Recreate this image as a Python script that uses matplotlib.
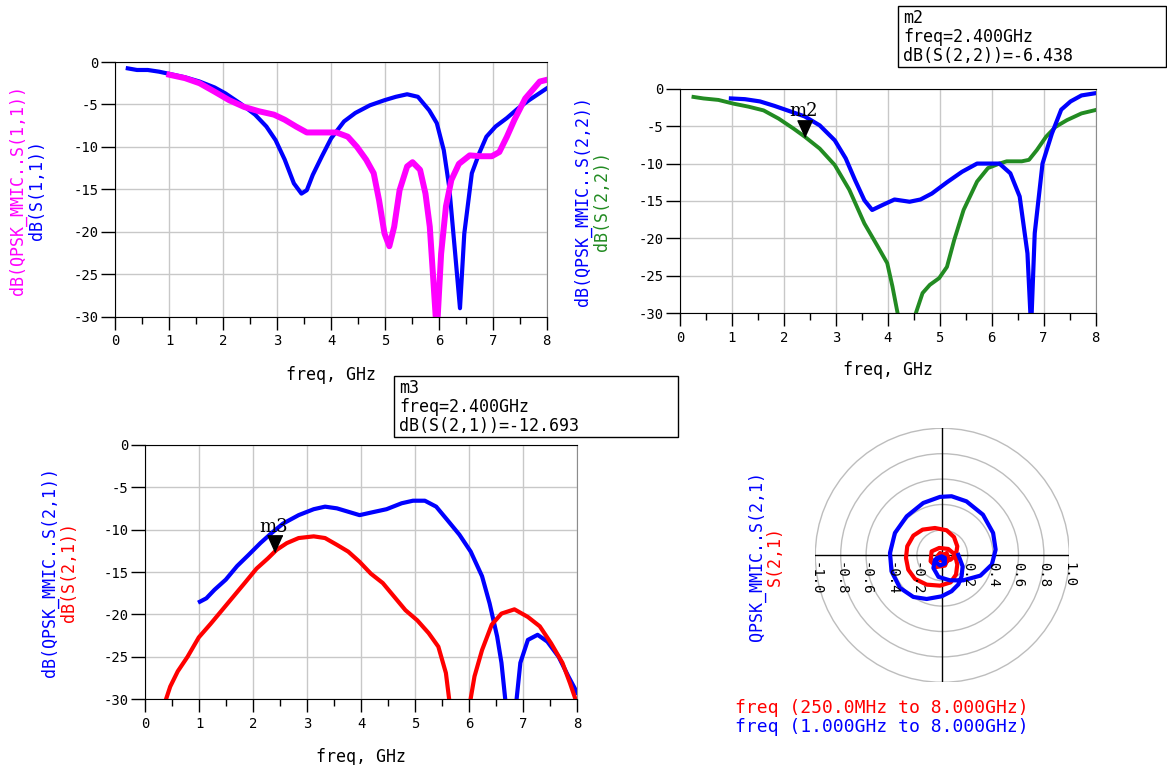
import numpy as np
import matplotlib
matplotlib.use('Agg')
import matplotlib.pyplot as plt
from matplotlib.patches import Circle, Rectangle

plt.rcParams['font.family'] = ['DejaVu Sans Mono']

W, H = 1167, 765

# S(1,1): dB(S(1,1)) blue, dB(QPSK_MMIC..S(1,1)) magenta
s11_f = [0.23, 0.40, 0.60, 0.81, 1.00, 1.29, 1.56, 1.84, 2.04, 2.32, 2.59, 2.80, 2.97, 3.14,
         3.31, 3.45, 3.55, 3.66, 3.83, 4.00, 4.24, 4.45, 4.72, 4.99, 5.20, 5.41, 5.61, 5.82,
         5.96, 6.09, 6.19, 6.30, 6.39, 6.47, 6.61, 6.75, 6.88, 7.05, 7.26, 7.46, 7.67, 8.00]
s11_db = [-0.75, -0.94, -0.94, -1.14, -1.4, -1.8, -2.3, -3.0, -3.7, -4.9, -6.2, -7.6, -9.2, -11.5,
          -14.3, -15.5, -15.1, -13.3, -11.1, -9.0, -7.0, -6.0, -5.1, -4.5, -4.1, -3.8, -4.1, -5.7,
          -7.2, -10.4, -14.7, -22.5, -29.0, -20.2, -13.1, -10.7, -8.8, -7.6, -6.6, -5.5, -4.5, -3.1]
s11_mmic_f = [1.00, 1.29, 1.56, 1.84, 2.11, 2.39, 2.66, 2.94, 3.14, 3.35, 3.55, 3.83, 4.10, 4.31,
              4.48, 4.65, 4.79, 4.89, 4.99, 5.08, 5.17, 5.27, 5.41, 5.51, 5.65, 5.75, 5.83, 5.90,
              5.96, 6.04, 6.13, 6.23, 6.37, 6.57, 6.78, 6.98, 7.12, 7.26, 7.40, 7.60, 7.87, 8.00]
s11_mmic_db = [-1.5, -1.9, -2.5, -3.5, -4.5, -5.3, -5.8, -6.2, -6.8, -7.6, -8.3, -8.3, -8.3, -8.8,
               -10.0, -11.5, -13.1, -16.3, -20.2, -21.7, -19.4, -15.1, -12.3, -11.8, -12.7, -15.5, -19.4, -26.1,
               -32.0, -22.6, -17.0, -13.9, -12.0, -11.0, -11.1, -11.1, -10.6, -8.8, -6.8, -4.3, -2.3, -2.1]

# S(2,2): dB(QPSK_MMIC..S(2,2)) blue, dB(S(2,2)) green
s22_mmic_f = [0.98, 1.25, 1.54, 1.82, 2.11, 2.40, 2.69, 2.98, 3.19, 3.37, 3.55, 3.70, 3.91, 4.13,
              4.42, 4.63, 4.85, 5.14, 5.43, 5.72, 6.00, 6.15, 6.36, 6.54, 6.69, 6.76, 6.83, 6.98,
              7.16, 7.34, 7.52, 7.73, 8.00]
s22_mmic_db = [-1.3, -1.4, -1.7, -2.3, -3.0, -3.7, -4.9, -6.9, -9.3, -12.2, -14.9, -16.2, -15.5, -14.8,
               -15.1, -14.8, -14.0, -12.5, -11.1, -10.0, -10.0, -10.0, -11.3, -14.4, -22.0, -32.0, -19.3, -10.0,
               -6.0, -2.8, -1.7, -0.9, -0.6]
s22_f = [0.26, 0.45, 0.74, 1.03, 1.32, 1.61, 1.90, 2.18, 2.40, 2.69, 2.98, 3.26, 3.55, 3.81,
         3.99, 4.09, 4.19, 4.25, 4.48, 4.54, 4.67, 4.81, 4.99, 5.14, 5.28, 5.46, 5.72, 5.93,
         6.15, 6.29, 6.58, 6.72, 6.87, 7.05, 7.23, 7.45, 7.73, 8.00]
s22_db = [-1.1, -1.3, -1.5, -2.0, -2.4, -2.9, -4.0, -5.3, -6.4, -8.0, -10.2, -13.5, -18.0, -21.1,
          -23.3, -26.4, -30.0, -34.0, -34.0, -30.0, -27.3, -26.2, -25.3, -23.8, -20.2, -16.2, -12.4, -10.6,
          -10.0, -9.7, -9.7, -9.5, -8.2, -6.4, -5.1, -4.2, -3.3, -2.85]

# S(2,1): dB(QPSK_MMIC..S(2,1)) blue, dB(S(2,1)) red
s21_mmic_f = [1.01, 1.13, 1.28, 1.49, 1.70, 1.91, 2.13, 2.34, 2.55, 2.84, 3.12, 3.33, 3.55, 3.76,
              3.97, 4.18, 4.47, 4.75, 4.96, 5.18, 5.39, 5.60, 5.82, 6.03, 6.24, 6.38, 6.52, 6.60,
              6.67, 6.77, 6.88, 6.95, 7.09, 7.27, 7.45, 7.66, 7.84, 8.00]
s21_mmic_db = [-18.5, -18.1, -17.1, -15.9, -14.3, -13.0, -11.6, -10.4, -9.3, -8.3, -7.6, -7.3, -7.5, -7.9,
               -8.3, -8.0, -7.6, -6.9, -6.6, -6.6, -7.3, -8.9, -10.6, -12.6, -15.5, -18.7, -22.6, -25.7,
               -30.0, -38.0, -30.0, -25.7, -23.0, -22.4, -23.2, -25.0, -27.3, -29.2]
s21_f = [0.33, 0.46, 0.60, 0.78, 0.99, 1.21, 1.42, 1.63, 1.84, 2.06, 2.27, 2.43, 2.62, 2.84,
         3.12, 3.33, 3.55, 3.76, 3.97, 4.18, 4.40, 4.61, 4.82, 5.04, 5.25, 5.43, 5.57, 5.65,
         5.82, 6.00, 6.10, 6.24, 6.42, 6.60, 6.84, 7.09, 7.31, 7.52, 7.73, 7.87, 8.00]
s21_db = [-31.0, -28.5, -26.7, -25.0, -22.7, -21.1, -19.5, -17.9, -16.3, -14.6, -13.4, -12.4, -11.6, -11.0,
          -10.8, -11.0, -11.8, -12.6, -13.8, -15.2, -16.3, -17.9, -19.5, -20.7, -22.2, -23.8, -26.9, -31.0,
          -40.0, -31.0, -27.3, -24.2, -21.2, -19.9, -19.4, -20.3, -21.4, -23.4, -25.7, -28.1, -30.5]

# polar S(2,1) traces (real, imag)
s21_mmic_re = [0.126, 0.16, 0.152, 0.126, 0.073, -0.005, -0.123, -0.228, -0.333, -0.40, -0.412, -0.373,
               -0.28, -0.15, -0.018, 0.073, 0.19, 0.32, 0.40, 0.42, 0.39, 0.30, 0.165, 0.06, -0.03,
               -0.07, -0.058, -0.005, 0.02, 0.02, -0.018, -0.05, -0.04, -0.005, 0.01]
s21_mmic_im = [0.003, -0.087, -0.165, -0.23, -0.283, -0.323, -0.344, -0.328, -0.257, -0.126, 0.018, 0.176,
               0.307, 0.412, 0.46, 0.465, 0.425, 0.32, 0.176, 0.045, -0.073, -0.16, -0.197, -0.197, -0.17,
               -0.1, -0.034, -0.008, -0.02, -0.066, -0.08, -0.055, -0.02, -0.02, -0.04]
s21_re = [0.0, 0.034, 0.047, 0.021, -0.045, -0.092, -0.084, -0.024, 0.047, 0.10, 0.118, 0.108, 0.066,
          -0.018, -0.123, -0.215, -0.268, -0.286, -0.276, -0.228, -0.155, -0.058, 0.034, 0.092, 0.118,
          0.108, 0.066, 0.021, -0.018, -0.039, -0.018, 0.008]
s21_im = [-0.008, 0.018, -0.021, -0.081, -0.092, -0.047, 0.031, 0.058, 0.05, 0.005, -0.073, -0.152, -0.213,
          -0.239, -0.231, -0.186, -0.113, -0.021, 0.071, 0.155, 0.202, 0.215, 0.197, 0.144, 0.071,
          0.005, -0.034, -0.047, -0.039, -0.008, 0.018, 0.005]

freq_ticks = [0, 1, 2, 3, 4, 5, 6, 7, 8]
db_ticks = [0, -5, -10, -15, -20, -25, -30]
polar_ticks = [-1.0, -0.8, -0.6, -0.4, -0.2, 0.2, 0.4, 0.6, 0.8, 1.0]
marker_f = 2.4
m2_db = -6.438
m3_db = -12.693

BLUE = '#0000ff'
MAGENTA = '#ff00ff'
GREEN = '#228b22'
RED = '#ff0000'
GRID = '#c8c8c8'

fig = plt.figure(figsize=(W / 100, H / 100), dpi=100)


def px_rect(l, t, r, b):
    return [l / W, 1 - b / H, (r - l) / W, (b - t) / H]


def ftext(x, y, s, **kw):
    return fig.text(x / W, 1 - y / H, s, **kw)


def rect_axes(l, t, r, b, label_y):
    ax = fig.add_axes(px_rect(l, t, r, b))
    ax.set_xlim(0, 8)
    ax.set_ylim(-30, 0)
    ax.set_xticks(freq_ticks)
    ax.set_xticks(np.arange(0.5, 8, 1), minor=True)
    ax.set_yticks(db_ticks)
    ax.set_yticklabels([str(v) for v in db_ticks])
    ax.grid(True, color=GRID, lw=1)
    ax.set_axisbelow(True)
    ax.tick_params(axis='x', which='major', direction='out', length=9.5, width=1, pad=3, labelsize=10)
    ax.tick_params(axis='x', which='minor', direction='out', length=5, width=1)
    ax.tick_params(axis='y', direction='out', length=10, width=1, pad=2, labelsize=10)
    ax.spines['right'].set_color('#8c8c8c')
    ax.set_xlabel('freq, GHz', fontsize=12)
    ax.xaxis.set_label_coords(0.5, label_y)
    ax.xaxis.label.set_va('center')
    return ax


def add_marker(ax, f, db, name):
    tri = [(0, 0), (-0.45, 1), (0.45, 1)]
    ax.plot([f], [db], marker=tri, markersize=24, color='black', ls='none', zorder=5, clip_on=False)
    ax.annotate(name, xy=(f, db), xytext=(-1, 12), textcoords='offset points',
                ha='center', va='bottom', fontsize=13, family='DejaVu Serif', zorder=6)


def readout(l, t, r, b, lines):
    fig.add_artist(Rectangle((l / W, 1 - b / H), (r - l) / W, (b - t) / H,
                             transform=fig.transFigure, fc='white', ec='black', lw=1))
    step = (b - t) / 3.2
    for i, s in enumerate(lines):
        ftext(l + 5, t + 12 + i * step, s, fontsize=12, va='center', ha='left')


# top left: S(1,1)
ax1 = rect_axes(115.4, 62, 546.8, 316.7, -0.229)
ax1.plot(s11_f, s11_db, color=BLUE, lw=3.0)
ax1.plot(s11_mmic_f, s11_mmic_db, color=MAGENTA, lw=4.3)
ftext(18, 190, 'dB(QPSK_MMIC..S(1,1))', color=MAGENTA, rotation=90, ha='center', va='center', fontsize=12)
ftext(37, 190, 'dB(S(1,1))', color=BLUE, rotation=90, ha='center', va='center', fontsize=12)

# top right: S(2,2)
ax2 = rect_axes(680, 88.7, 1095.5, 313.3, -0.252)
ax2.plot(s22_f, s22_db, color=GREEN, lw=2.8)
ax2.plot(s22_mmic_f, s22_mmic_db, color=BLUE, lw=3.0)
add_marker(ax2, marker_f, m2_db, 'm2')
ftext(583, 201, 'dB(QPSK_MMIC..S(2,2))', color=BLUE, rotation=90, ha='center', va='center', fontsize=12)
ftext(602, 201, 'dB(S(2,2))', color=GREEN, rotation=90, ha='center', va='center', fontsize=12)
readout(898, 6, 1166, 67, ['m2', 'freq=2.400GHz', 'dB(S(2,2))=%.3f' % m2_db])

# bottom left: S(2,1)
ax3 = rect_axes(145.4, 444.7, 577, 699.3, -0.225)
ax3.plot(s21_mmic_f, s21_mmic_db, color=BLUE, lw=3.0)
ax3.plot(s21_f, s21_db, color=RED, lw=3.0)
add_marker(ax3, marker_f, m3_db, 'm3')
ftext(50, 572, 'dB(QPSK_MMIC..S(2,1))', color=BLUE, rotation=90, ha='center', va='center', fontsize=12)
ftext(69, 572, 'dB(S(2,1))', color=RED, rotation=90, ha='center', va='center', fontsize=12)
readout(394, 376, 678, 437, ['m3', 'freq=2.400GHz', 'dB(S(2,1))=%.3f' % m3_db])

# bottom right: polar S(2,1)
ax4 = fig.add_axes(px_rect(815.3, 428.3, 1069.3, 682.3))
ax4.set_xlim(-1, 1)
ax4.set_ylim(-1, 1)
ax4.axis('off')
for r in [0.2, 0.4, 0.6, 0.8, 1.0]:
    ax4.add_patch(Circle((0, 0), r, fill=False, ec='#bdbdbd', lw=1))
ax4.plot([-1, 1], [0, 0], color='black', lw=1)
ax4.plot([0, 0], [-1, 1], color='black', lw=1)
for v in polar_ticks:
    ax4.text(v, -0.05, '%.1f' % v, rotation=270, ha='center', va='top', fontsize=10)
ax4.plot(s21_re, s21_im, color=RED, lw=3.0)
ax4.plot(s21_mmic_re, s21_mmic_im, color=BLUE, lw=3.0)
ftext(757, 556, 'QPSK_MMIC..S(2,1)', color=BLUE, rotation=90, ha='center', va='center', fontsize=12)
ftext(775, 556, 'S(2,1)', color=RED, rotation=90, ha='center', va='center', fontsize=12)
ftext(735, 708, 'freq (250.0MHz to 8.000GHz)', color=RED, ha='left', va='center', fontsize=13)
ftext(735, 727, 'freq (1.000GHz to 8.000GHz)', color=BLUE, ha='left', va='center', fontsize=13)

fig.savefig('out.png', dpi=100)
